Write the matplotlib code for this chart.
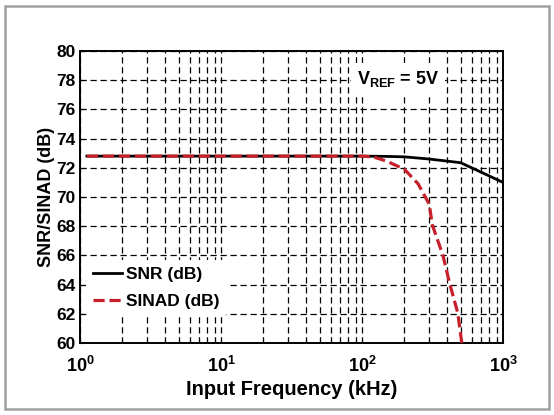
import matplotlib
matplotlib.use("Agg")
import matplotlib.pyplot as plt
from matplotlib.patches import Rectangle
import matplotlib.ticker as mticker

plt.rcParams['font.family'] = ['Liberation Sans', 'DejaVu Sans']
plt.rcParams['font.weight'] = 'bold'
plt.rcParams['mathtext.fontset'] = 'custom'
plt.rcParams['mathtext.rm'] = 'Liberation Sans:bold'
plt.rcParams['mathtext.bf'] = 'Liberation Sans:bold'
plt.rcParams['mathtext.it'] = 'Liberation Sans:bold'

# data (kHz, dB)
snr_freq = [1.12, 10, 50, 100, 150, 200, 300, 500, 700, 1000]
snr_db = [72.8, 72.8, 72.8, 72.8, 72.78, 72.75, 72.6, 72.35, 71.7, 71.0]

sinad_freq = [1.12, 10, 50, 100, 120, 150, 200, 250, 300, 315, 375, 418, 478, 510]
sinad_db = [72.8, 72.8, 72.8, 72.8, 72.75, 72.45, 71.9, 70.9, 69.5, 68.1, 66.0, 64.1, 62.05, 60.0]

vref_label = r'$\mathbf{V_{REF}}$ = 5V'

fig = plt.figure(figsize=(5.54, 4.15), dpi=100)
fig.patches.append(Rectangle((5 / 554, 6 / 415), 544 / 554, 403 / 415,
                             transform=fig.transFigure, fill=False,
                             edgecolor='#a0a0a0', linewidth=1.8))

ax = fig.add_axes([80 / 554, 1 - 343 / 415, 423 / 554, 292 / 415])
ax.set_xscale('log')
ax.set_xlim(1, 1000)
ax.set_ylim(60, 80)

ax.plot(snr_freq, snr_db, color='black', linewidth=2.0, label='SNR (dB)', zorder=3)
ax.plot(sinad_freq, sinad_db, color='#c8202a', linewidth=2.3, linestyle=(0, (3.5, 1.5)),
        label='SINAD (dB)', zorder=4)

ax.set_yticks(range(60, 81, 2))
ax.xaxis.set_major_locator(mticker.LogLocator(base=10, numticks=10))
ax.xaxis.set_minor_locator(mticker.LogLocator(base=10, subs=range(2, 10), numticks=10))
ax.xaxis.set_minor_formatter(mticker.NullFormatter())
ax.grid(True, which='both', axis='x', color='black', linestyle=(0, (5, 3)), linewidth=0.9)
ax.grid(True, which='major', axis='y', color='black', linestyle=(0, (5, 3)), linewidth=0.9)
ax.set_axisbelow(True)

ax.tick_params(which='both', direction='in', length=3, width=0.8, top=False, right=False)
ax.tick_params(axis='y', labelsize=12.5, pad=3)
ax.tick_params(axis='x', labelsize=13, pad=9)
for sp in ax.spines.values():
    sp.set_linewidth(1.4)

ax.set_xlabel('Input Frequency (kHz)', fontsize=14.5, fontweight='bold', labelpad=3)
ax.set_ylabel('SNR/SINAD (dB)', fontsize=13, fontweight='bold', labelpad=1)

ax.text(0.655, 0.905, vref_label, transform=ax.transAxes, fontsize=13,
        fontweight='bold', va='center', ha='left',
        bbox=dict(facecolor='white', edgecolor='none', pad=4), zorder=5)

leg = ax.legend(loc='lower left', bbox_to_anchor=(0.005, 0.08), frameon=True,
                fontsize=12.5, handlelength=1.7, handletextpad=0.25,
                labelspacing=0.7, borderpad=0.4, borderaxespad=0.2)
leg.get_frame().set_edgecolor('none')
leg.get_frame().set_facecolor('white')
leg.get_frame().set_alpha(1.0)

fig.savefig('out.png', dpi=100)
